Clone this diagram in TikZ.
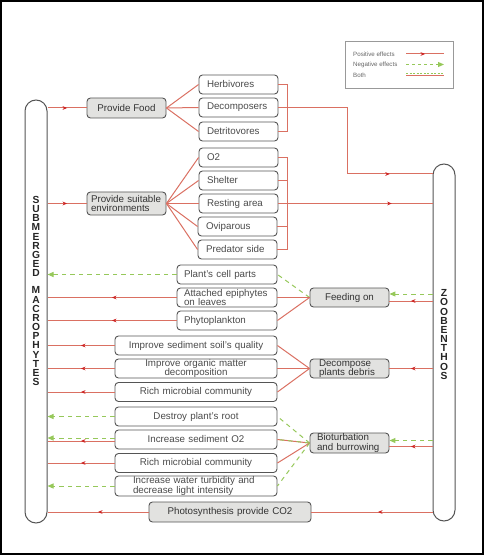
\documentclass[tikz,border=0pt]{standalone}
\usepackage{fontspec}
\setmainfont{Liberation Sans}
\usetikzlibrary{arrows.meta,decorations.markings}
\definecolor{redl}{RGB}{218,112,98}
\definecolor{redm}{RGB}{205,35,35}
\definecolor{grn}{RGB}{150,200,90}
\definecolor{bdr}{RGB}{85,85,85}
\definecolor{bfill}{RGB}{226,226,224}
\definecolor{txt}{RGB}{75,75,75}
\newcommand\fs{\fontsize{9.8}{9.2}\selectfont}
\begin{document}
\begin{tikzpicture}[x=1bp,y=-1bp,
  box/.style={draw=bdr, line width=0.9bp, rounded corners=3.5bp, fill=white, text=txt, font=\fs, inner ysep=0pt, minimum height=19bp},
  gbox/.style={box, fill=bfill, text=black!80},
  wa/.style={text width=63bp, inner xsep=8bp, align=left},
  wb/.style={text width=86bp, inner xsep=7bp, align=left},
  wc/.style={text width=150bp, inner xsep=6bp, align=center},
  pillar/.style={draw=bdr, line width=1bp, rounded corners=11bp, fill=white, inner sep=0pt, minimum width=22bp},
  vtext/.style={font=\bfseries\fontsize{10.3}{9.2}\selectfont, align=center, inner sep=0pt, text=black!85},
  posline/.style={draw=redl, line width=1bp},
  midarr/.style={posline, postaction={decorate}, decoration={markings, mark=at position #1 with {\arrow{Stealth[length=4.5bp,width=3.8bp,color=redm]}}}},
  midarr/.default=0.5,
  negline/.style={draw=grn, line width=1bp, dash pattern=on 4.5bp off 4bp},
  nega/.style={negline, -{Triangle[length=6bp,width=5bp,color=grn]}},
  legt/.style={font=\fontsize{6.2}{7}\selectfont, text=black!60, inner sep=0pt, anchor=west}
]
\useasboundingbox (0,0) rectangle (484,555);
\draw[line width=2bp] (1,1) rectangle (483,554);

% pillars
\node[pillar, minimum height=423bp] (L) at (36,311.5) {};
\node[pillar, minimum height=357bp] (R) at (444,342.5) {};
\node[vtext] (Lt) at (36,291) {S\\U\\B\\M\\E\\R\\G\\E\\D\\[8bp]M\\A\\C\\R\\O\\P\\H\\Y\\T\\E\\S};
\node[vtext] (Rt) at (444,334.5) {Z\\O\\O\\B\\E\\N\\T\\H\\O\\S};

% legend
\node[draw=black!40, line width=0.6bp, minimum width=108bp, minimum height=47bp, inner sep=0pt] (leg) at (399,64.5) {};
\node[legt] (l1) at (353,54) {Positive effects};
\node[legt] (l2) at (353,64.5) {Negative effects};
\node[legt] (l3) at (353,75) {Both};
\coordinate (p1a) at (406,54); \coordinate (p1b) at (444,54);
\coordinate (n1a) at (406,64.5); \coordinate (n1b) at (444,64.5);
\coordinate (q1a) at (406,75.3); \coordinate (q1b) at (444,75.3);
\coordinate (q2a) at (406,73.8); \coordinate (q2b) at (444,73.8);
\draw[midarr] (p1a) -- (p1b);
\draw[nega, dash pattern=on 3bp off 3bp] (n1a) -- (n1b);
\draw[posline] (q1a) -- (q1b);
\draw[draw=grn, line width=0.9bp, dash pattern=on 2bp off 1.5bp] (q2a) -- (q2b);

% top group
\node[gbox, minimum width=79bp, minimum height=20bp, inner xsep=0pt] (food) at (126.5,108) {Provide Food};
\node[gbox, text width=71bp, inner xsep=4bp, align=left, minimum height=23bp] (env) at (126.5,203.5) {Provide suitable\\environments};
\node[box, wa] (herb) at (238.5,84.5) {Herbivores};
\node[box, wa] (decomp) at (238.5,107.5) {Decomposers};
\node[box, wa] (detr) at (238.5,131.5) {Detritovores};
\node[box, wa] (o2) at (238.5,157.5) {O2};
\node[box, wa] (shelter) at (238.5,180.5) {Shelter};
\node[box, wa] (rest) at (238.5,203.5) {Resting area};
\node[box, wa] (ovi) at (237.5,226.5) {Oviparous};
\node[box, wa] (pred) at (237.5,249.5) {Predator side};

% feeding group
\node[box, wb] (cell) at (227,274.5) {Plant's cell parts};
\node[box, wb] (epi) at (227,297.5) {Attached epiphytes\\on leaves};
\node[box, wb] (phyto) at (227,320.5) {Phytoplankton};
\node[gbox, minimum width=79bp, inner xsep=0pt] (feed) at (349.5,297.5) {Feeding on};

% decompose group
\node[box, wc] (imp1) at (196,345.5) {Improve sediment soil's quality};
\node[box, wc] (imp2) at (196,368.5) {Improve organic matter\\decomposition};
\node[box, wc] (imp3) at (196,392) {Rich microbial community};
\node[gbox, text width=61bp, inner xsep=9bp, align=left] (dec) at (349.5,368.5) {Decompose\\plants debris};

% bioturbation group
\node[box, wc] (destroy) at (196,416.5) {Destroy plant's root};
\node[box, wc] (o2s) at (196,439.5) {Increase sediment O2};
\node[box, wc] (rich2) at (196,463) {Rich microbial community};
\node[box, text width=126bp, inner xsep=18bp, align=left, minimum height=20bp] (turb) at (196,486) {Increase water turbidity and\\decrease light intensity};
\node[gbox, text width=65bp, inner xsep=7bp, align=left, minimum height=20bp] (bio) at (349.5,443) {Bioturbation\\and burrowing};
\node[gbox, wc, minimum height=20bp] (photo) at (230,512) {Photosynthesis provide CO2};

% connectors: top
\draw[midarr] (food.west -| L.east) -- (food.west);
\draw[midarr] (env.west -| L.east) -- (env.west);
\foreach \n in {herb,decomp,detr} \draw[posline] (food.east) -- (\n.west);
\foreach \n in {o2,shelter,rest,ovi,pred} \draw[posline] (env.east) -- (\n.west);
\coordinate (b1t) at (287,84.5); \coordinate (b1b) at (287,131.5);
\draw[posline] (herb.east) -- (b1t) -- (b1b) -- (detr.east);
\coordinate (dk) at (347,174);
\draw[posline] (decomp.east) -| (dk);
\draw[midarr] (dk) -- (dk -| R.west);
\coordinate (b2t) at (287,157.5); \coordinate (b2b) at (287,249.5);
\draw[posline] (o2.east) -- (b2t) -- (b2b) -- (pred.east);
\draw[posline] (shelter.east) -- (shelter.east -| b2t);
\draw[posline] (ovi.east) -- (ovi.east -| b2t);
\draw[midarr=0.735] (rest.east) -- (rest.east -| R.west);

% feeding
\draw[negline] (feed.west) -- (cell.east);
\draw[posline] (feed.west) -- (epi.east);
\draw[posline] (feed.west) -- (phyto.east);
\draw[nega] (cell.west) -- (cell.west -| L.east);
\draw[midarr] (epi.west) -- (epi.west -| L.east);
\draw[midarr] (phyto.west) -- (phyto.west -| L.east);
\coordinate (fg) at ([yshift=3.5bp]feed.east);
\coordinate (fr) at ([yshift=-3.5bp]feed.east);
\draw[nega] (fg -| R.west) -- (fg);
\draw[midarr] (fr -| R.west) -- (fr);

% decompose
\foreach \n in {imp1,imp2,imp3} {
  \draw[posline] (dec.west) -- (\n.east);
  \draw[midarr] (\n.west) -- (\n.west -| L.east);
}
\draw[midarr] (dec.east -| R.west) -- (dec.east);

% bioturbation
\draw[negline] (bio.west) -- (destroy.east);
\draw[posline] (bio.west) -- (o2s.east);
\draw[negline] (bio.west) -- (o2s.east);
\draw[posline] (bio.west) -- (rich2.east);
\draw[negline] (bio.west) -- (turb.east);
\draw[nega] (destroy.west) -- (destroy.west -| L.east);
\coordinate (o2g) at ([yshift=1.5bp]o2s.west);
\coordinate (o2r) at ([yshift=-1.5bp]o2s.west);
\draw[nega] (o2g) -- (o2g -| L.east);
\draw[midarr] (o2r) -- (o2r -| L.east);
\draw[midarr] (rich2.west) -- (rich2.west -| L.east);
\draw[nega] (turb.west) -- (turb.west -| L.east);
\coordinate (bg) at ([yshift=2.5bp]bio.east);
\coordinate (br) at ([yshift=-3.5bp]bio.east);
\draw[nega] (bg -| R.west) -- (bg);
\draw[midarr] (br -| R.west) -- (br);

% photosynthesis
\draw[midarr=0.45] (photo.east -| R.west) -- (photo.east);
\draw[midarr] (photo.west) -- (photo.west -| L.east);
\end{tikzpicture}
\end{document}
